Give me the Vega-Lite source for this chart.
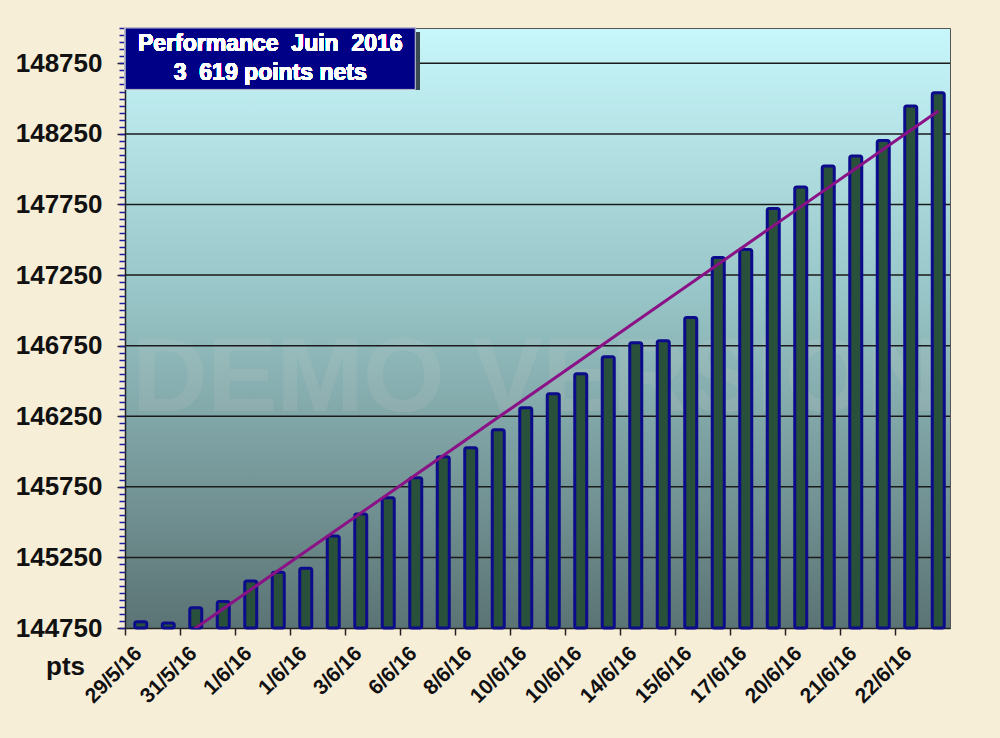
{
  "$schema": "https://vega.github.io/schema/vega-lite/v6.json",
  "width": 825,
  "height": 600,
  "autosize": {"type": "none"},
  "padding": {"left": 125, "top": 28, "right": 50, "bottom": 110},
  "background": "#f7eed8",
  "config": {
    "font": "Liberation Sans",
    "view": {
      "fill": {"gradient": "linear", "x1": 0, "y1": 0, "x2": 0, "y2": 1,
        "stops": [{"offset": 0, "color": "#c8f7fb"}, {"offset": 0.45, "color": "#97c4c6"}, {"offset": 1, "color": "#5b7374"}]},
      "stroke": "#555555",
      "strokeWidth": 1
    }
  },
  "data": {"values": [
    {"n": 1, "date": "29/5/16", "pts": 144795, "tend": 144479},
    {"n": 2, "date": "", "pts": 144785},
    {"n": 3, "date": "31/5/16", "pts": 144894},
    {"n": 4, "date": "", "pts": 144937},
    {"n": 5, "date": "1/6/16", "pts": 145083},
    {"n": 6, "date": "", "pts": 145145},
    {"n": 7, "date": "1/6/16", "pts": 145173},
    {"n": 8, "date": "", "pts": 145402},
    {"n": 9, "date": "3/6/16", "pts": 145558},
    {"n": 10, "date": "", "pts": 145672},
    {"n": 11, "date": "6/6/16", "pts": 145814},
    {"n": 12, "date": "", "pts": 145963},
    {"n": 13, "date": "8/6/16", "pts": 146027},
    {"n": 14, "date": "", "pts": 146154},
    {"n": 15, "date": "10/6/16", "pts": 146310},
    {"n": 16, "date": "", "pts": 146409},
    {"n": 17, "date": "10/6/16", "pts": 146551},
    {"n": 18, "date": "", "pts": 146672},
    {"n": 19, "date": "14/6/16", "pts": 146771},
    {"n": 20, "date": "", "pts": 146785},
    {"n": 21, "date": "15/6/16", "pts": 146949},
    {"n": 22, "date": "", "pts": 147374},
    {"n": 23, "date": "17/6/16", "pts": 147431},
    {"n": 24, "date": "", "pts": 147721},
    {"n": 25, "date": "20/6/16", "pts": 147873},
    {"n": 26, "date": "", "pts": 148022},
    {"n": 27, "date": "21/6/16", "pts": 148093},
    {"n": 28, "date": "", "pts": 148204},
    {"n": 29, "date": "22/6/16", "pts": 148447},
    {"n": 30, "date": "", "pts": 148542, "tend": 148412}
  ]},
  "transform": [
    {"calculate": "(datum.n < 10 ? '0' : '') + datum.n + '|' + datum.date", "as": "key"}
  ],
  "resolve": {"axis": {"y": "independent"}},
  "layer": [
    {
      "mark": {"type": "text", "text": "DEMO VERSION", "fontSize": 104, "fontWeight": "bold", "clip": true,
        "fill": {"gradient": "linear", "x1": 0, "y1": 0, "x2": 0, "y2": 1,
          "stops": [{"offset": 0, "color": "#9cc2c3"}, {"offset": 1, "color": "#8aa8a9"}]},
        "align": "center", "baseline": "middle", "xOffset": 13},
      "encoding": {
        "x": {"datum": "15|10/6/16", "type": "ordinal"},
        "y": {"datum": 146509, "type": "quantitative", "axis": null}
      }
    },
    {
      "data": {"values": [{"g": 145250}, {"g": 145750}, {"g": 146250}, {"g": 146750}, {"g": 147250}, {"g": 147750}, {"g": 148250}, {"g": 148750}]},
      "mark": {"type": "rule", "color": "#1a1a1a", "strokeWidth": 1.5},
      "encoding": {
        "y": {"field": "g", "type": "quantitative", "axis": null}
      }
    },
    {
      "mark": {"type": "bar", "size": 12, "fill": "#28503a", "stroke": "#0b0b8c", "strokeWidth": 3, "cornerRadius": 2, "xOffset": 2},
      "encoding": {
        "x": {"field": "key", "type": "ordinal", "title": null,
          "scale": {"paddingInner": 0, "paddingOuter": 0},
          "axis": {
            "values": ["01|29/5/16", "03|31/5/16", "05|1/6/16", "07|1/6/16", "09|3/6/16", "11|6/6/16", "13|8/6/16", "15|10/6/16", "17|10/6/16", "19|14/6/16", "21|15/6/16", "23|17/6/16", "25|20/6/16", "27|21/6/16", "29|22/6/16"],
            "labelExpr": "split(datum.value, '|')[1]",
            "bandPosition": 0,
            "labelAngle": -45,
            "labelAlign": "right",
            "labelBaseline": "middle",
            "labelDx": 18,
            "labelPadding": 15,
            "labelFont": "Liberation Sans",
            "labelFontSize": 21,
            "labelFontWeight": "bold",
            "labelColor": "#111111",
            "tickColor": "#222222",
            "tickSize": 7,
            "tickWidth": 1.5,
            "domainColor": "#222222",
            "domainWidth": 1.5,
            "grid": false
          }
        },
        "y": {"field": "pts", "type": "quantitative",
          "scale": {"domain": [144750, 149000], "zero": false, "nice": false},
          "axis": {
            "values": [144750, 145250, 145750, 146250, 146750, 147250, 147750, 148250, 148750],
            "format": "d",
            "title": "pts",
            "titleAngle": 0,
            "titleX": -60,
            "titleY": 646,
            "titleAlign": "center",
            "titleBaseline": "alphabetic",
            "titleFontSize": 26,
            "titleFontWeight": "bold",
            "titleColor": "#111111",
            "labelFontSize": 26,
            "labelFontWeight": "bold",
            "labelColor": "#111111",
            "labelPadding": 15,
            "tickSize": 8,
            "tickColor": "#222222",
            "tickWidth": 1.5,
            "domainColor": "#222222",
            "domainWidth": 1.5,
            "grid": false
          }
        },
        "y2": {"datum": 144750}
      }
    },
    {
      "transform": [{"filter": "isValid(datum.tend)"}],
      "mark": {"type": "line", "color": "#8a1286", "strokeWidth": 3, "clip": true, "xOffset": 2},
      "encoding": {
        "x": {"field": "key", "type": "ordinal"},
        "y": {"field": "tend", "type": "quantitative",
          "axis": {"orient": "left", "tickCount": 85, "labels": false, "title": null, "grid": false, "domain": false, "tickColor": "#1c1ca0", "tickSize": 6, "tickWidth": 1.5}
        }
      }
    },
    {
      "mark": {"type": "bar", "width": 290, "fill": "#3a4a52", "xOffset": -2, "yOffset": 4},
      "encoding": {
        "x": {"datum": "06|", "type": "ordinal"},
        "y": {"datum": 149000, "type": "quantitative", "axis": null},
        "y2": {"datum": 148565}
      }
    },
    {
      "mark": {"type": "bar", "width": 290, "fill": "#000086", "stroke": "#b8b8c8", "strokeWidth": 1, "xOffset": -6},
      "encoding": {
        "x": {"datum": "06|", "type": "ordinal"},
        "y": {"datum": 149000, "type": "quantitative", "axis": null},
        "y2": {"datum": 148565}
      }
    },
    {
      "mark": {"type": "text", "text": ["Performance\u00a0 Juin\u00a0 2016", "3\u00a0 619 points nets"], "fontSize": 23, "fontWeight": "bold", "fill": "white", "align": "center", "baseline": "middle", "lineHeight": 29, "xOffset": -6},
      "encoding": {
        "x": {"datum": "06|", "type": "ordinal"},
        "y": {"datum": 148887, "type": "quantitative", "axis": null}
      }
    }
  ]
}
